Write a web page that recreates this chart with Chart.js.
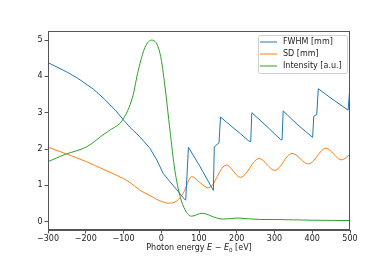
<!DOCTYPE html>
<html>
<head>
<meta charset="utf-8">
<script src="https://cdn.jsdelivr.net/npm/chart.js@4/dist/chart.umd.min.js"></script>
<style>
  html, body { margin: 0; padding: 0; background: #fff; }
  canvas { display: block; }
</style>
</head>
<body>
<canvas id="beamChart" width="389" height="259"></canvas>
<script>
// FWHM [mm] vs photon energy (sawtooth jumps are just neighbouring points)
const fwhmEnergy = [-300, -250, -220, -180, -150, -120, -100, -83, -56, -30, -12, 5, 23, 41, 63, 65, 72, 102, 138,
    140.5, 153, 157, 182, 210, 232, 237, 240, 280, 316, 320, 323, 360, 401, 404, 412, 416, 455, 495, 500];
const fwhmValues = [4.38, 4.12, 3.94, 3.65, 3.37, 3.05, 2.8, 2.6, 2.33, 2.02, 1.7, 1.33, 1.1, 0.88, 0.6, 0.62, 2.05, 1.53, 0.86,
    2.06, 2.17, 2.88, 2.66, 2.42, 2.22, 2.2, 3.0, 2.62, 2.26, 2.25, 3.05, 2.68, 2.32, 2.9, 2.95, 3.66, 3.36, 3.07, 3.75];

// SD [mm]
const sdEnergy = [-300, -255, -198, -149, -103, -83, -56, -30, -15, 0, 19, 41, 58, 81, 102, 125, 172, 210, 259, 301, 346, 390, 436, 478, 500];
const sdValues = [2.05, 1.88, 1.65, 1.42, 1.2, 1.08, 0.86, 0.72, 0.63, 0.56, 0.51, 0.57, 0.78, 1.24, 1.08, 0.93, 1.56, 1.22, 1.74, 1.41, 1.88, 1.59, 2.02, 1.7, 1.86];

// Intensity [a.u.]
const intensityEnergy = [-300, -255, -198, -149, -136, -102, -76, -61, -43, -25, -3, 10, 23, 36, 50, 63, 80, 108, 147, 164, 203, 260, 300, 350, 400, 450, 500];
const intensityValues = [1.65, 1.85, 2.06, 2.43, 2.52, 2.81, 3.43, 4.16, 4.8, 5.0, 4.62, 3.71, 2.52, 1.42, 0.69, 0.33, 0.15, 0.23, 0.1, 0.07, 0.1, 0.06, 0.06, 0.05, 0.04, 0.035, 0.03];

const seriesNames = ['FWHM [mm]', 'SD [mm]', 'Intensity [a.u.]'];
const seriesColors = ['#1f77b4', '#ff7f0e', '#2ca02c'];
const yTickValues = [0, 1, 2, 3, 4, 5];

const FONT = '"DejaVu Sans", sans-serif';

// Function to zip x and y arrays into points
function toPoints(xs, ys) {
    return xs.map((x, i) => ({ x: x, y: ys[i] }));
}

// Function to format ticks with a real minus sign
function fmtTick(v) {
    return v < 0 ? '\u2212' + Math.abs(v) : String(v);
}

// Plugin: matplotlib style frame, legend and x axis label
const extrasPlugin = {
    id: 'extras',
    afterDraw(chart) {
        const ctx = chart.ctx;
        const a = chart.chartArea;
        ctx.save();

        // full frame round the axes
        ctx.strokeStyle = '#555';
        ctx.lineWidth = 1;
        ctx.strokeRect(Math.round(a.left) + 0.5, Math.round(a.top) + 0.5,
            Math.round(a.right - a.left) - 1, Math.round(a.bottom - a.top) - 1);

        // legend box
        const lx = 258, ly = 35, lw = 89, lh = 38;
        ctx.fillStyle = 'rgba(255,255,255,0.85)';
        ctx.strokeStyle = '#d0d0d0';
        ctx.beginPath();
        ctx.roundRect(lx + 0.5, ly + 0.5, lw, lh, 2);
        ctx.fill();
        ctx.stroke();
        ctx.font = '8px ' + FONT;
        ctx.textBaseline = 'middle';
        seriesNames.forEach((name, i) => {
            const y = ly + 6.5 + i * 12;
            ctx.strokeStyle = seriesColors[i];
            ctx.beginPath();
            ctx.moveTo(260, y + 0.5);
            ctx.lineTo(277, y + 0.5);
            ctx.stroke();
            ctx.fillStyle = '#222';
            ctx.fillText(name, 283, y + 0.5);
        });

        // x axis label with italic E and subscript 0
        const parts = [
            { t: 'Photon energy ', f: '8px ' + FONT, dy: 0 },
            { t: 'E', f: 'italic 8px ' + FONT, dy: 0 },
            { t: ' \u2212 ', f: '8px ' + FONT, dy: 0 },
            { t: 'E', f: 'italic 8px ' + FONT, dy: 0 },
            { t: '0', f: '5.6px ' + FONT, dy: 1.8 },
            { t: ' [eV]', f: '8px ' + FONT, dy: 0 }
        ];
        let total = 0;
        parts.forEach(p => { ctx.font = p.f; p.w = ctx.measureText(p.t).width; total += p.w; });
        let x = (a.left + a.right) / 2 - total / 2;
        ctx.fillStyle = '#222';
        ctx.textBaseline = 'alphabetic';
        parts.forEach(p => {
            ctx.font = p.f;
            ctx.fillText(p.t, x, 250 + p.dy);
            x += p.w;
        });
        ctx.restore();
    }
};

// Function to create the chart
function createBeamChart() {
    const ctx = document.getElementById('beamChart').getContext('2d');
    const allX = [fwhmEnergy, sdEnergy, intensityEnergy];
    const allY = [fwhmValues, sdValues, intensityValues];

    new Chart(ctx, {
        type: 'scatter',
        data: {
            datasets: seriesNames.map((name, i) => ({
                label: name,
                data: toPoints(allX[i], allY[i]),
                showLine: true,
                borderColor: seriesColors[i],
                backgroundColor: seriesColors[i],
                borderWidth: 1,
                pointRadius: 0,
                tension: 0,
                cubicInterpolationMode: i === 0 ? 'default' : 'monotone'
            }))
        },
        options: {
            responsive: false,
            animation: false,
            layout: { padding: { top: 31, right: 39, bottom: 0, left: 0 } },
            plugins: {
                legend: { display: false },
                tooltip: { enabled: false }
            },
            scales: {
                x: {
                    type: 'linear',
                    min: -300,
                    max: 500,
                    afterFit: scale => { scale.height = 29; },
                    ticks: {
                        stepSize: 100,
                        padding: 1,
                        color: '#222',
                        font: { family: FONT, size: 8 },
                        maxRotation: 0,
                        callback: v => fmtTick(v)
                    },
                    grid: { drawOnChartArea: false, tickLength: 3.5, color: '#555' },
                    border: { color: '#555' }
                },
                y: {
                    type: 'linear',
                    min: -0.23,
                    max: 5.25,
                    afterFit: scale => { scale.width = 48; },
                    afterBuildTicks: scale => { scale.ticks = yTickValues.map(v => ({ value: v })); },
                    ticks: {
                        padding: 2,
                        color: '#222',
                        font: { family: FONT, size: 8 },
                        callback: v => fmtTick(v)
                    },
                    grid: { drawOnChartArea: false, tickLength: 3.5, color: '#555' },
                    border: { color: '#555' }
                }
            }
        },
        plugins: [extrasPlugin]
    });
}

// Call the function to create the chart
createBeamChart();
</script>
</body>
</html>
